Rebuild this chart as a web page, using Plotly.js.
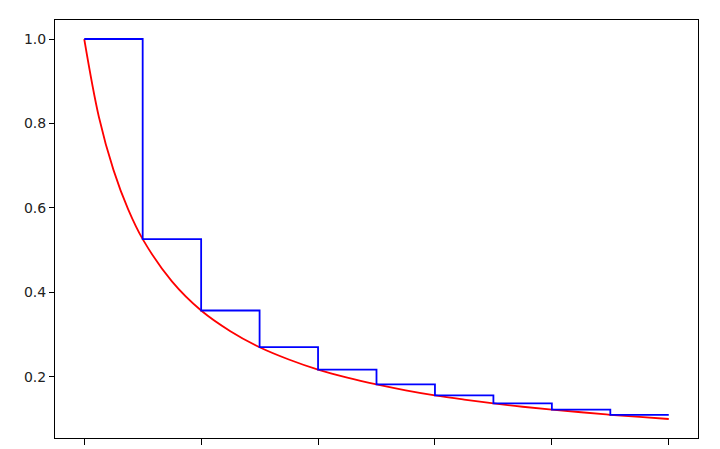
<!DOCTYPE html>
<html>
<head>
<meta charset="utf-8">
<script src="https://cdn.plot.ly/plotly-3.0.1.min.js"></script>
<style>html,body{margin:0;padding:0;background:#fff;}#chart{width:720px;height:449px;}</style>
</head>
<body>
<div id="chart"></div>
<script>
// Smooth decreasing curve (red)
const curveX = [0, 0.25, 0.5, 0.75, 1, 1.5, 2, 2.5, 3, 3.5, 4, 4.5, 5, 5.5, 6, 6.5, 7, 7.5, 8, 8.5, 9, 9.5, 10];
const curveY = [1.0, 0.816, 0.690, 0.597, 0.526, 0.426, 0.357, 0.308, 0.270, 0.241, 0.217, 0.198, 0.182, 0.168, 0.156, 0.146, 0.137, 0.129, 0.122, 0.116, 0.110, 0.105, 0.100];
// Step function (blue), left-edge values
const stepX = [0, 1, 2, 3, 4, 5, 6, 7, 8, 9, 10];
const stepY = [1.0, 0.526, 0.357, 0.270, 0.217, 0.182, 0.156, 0.137, 0.122, 0.110, 0.110];
// Axis ticks (x tick labels fall below the visible picture in the reference)
const xTicks = [0, 2, 4, 6, 8, 10];
const yTicks = [0.2, 0.4, 0.6, 0.8, 1.0];
const yTickText = ["0.2", "0.4", "0.6", "0.8", "1.0"];

const traces = [
  {x: curveX, y: curveY, type: 'scatter', mode: 'lines',
   line: {color: '#ff0000', width: 1.8, shape: 'spline', smoothing: 1}, hoverinfo: 'skip'},
  {x: stepX, y: stepY, type: 'scatter', mode: 'lines',
   line: {color: '#0000ff', width: 1.8, shape: 'hv'}, hoverinfo: 'skip'}
];

const layout = {
  width: 720, height: 449,
  margin: {l: 55, r: 22, t: 20, b: 11},
  paper_bgcolor: '#ffffff', plot_bgcolor: '#ffffff',
  showlegend: false,
  font: {family: 'DejaVu Sans, sans-serif', size: 14, color: '#222'},
  xaxis: {
    range: [-0.5, 10.5], tickvals: xTicks, showticklabels: false,
    showgrid: false, zeroline: false, showline: true, mirror: true,
    linecolor: '#000', linewidth: 1, ticks: 'outside', ticklen: 6,
    tickcolor: '#000', tickwidth: 1, automargin: false
  },
  yaxis: {
    range: [0.055, 1.045], tickvals: yTicks, ticktext: yTickText,
    showgrid: false, zeroline: false, showline: true, mirror: true,
    linecolor: '#000', linewidth: 1, ticks: 'outside', ticklen: 5,
    tickcolor: '#000', tickwidth: 1, automargin: false
  }
};

Plotly.newPlot('chart', traces, layout, {staticPlot: true, displayModeBar: false});
</script>
</body>
</html>
